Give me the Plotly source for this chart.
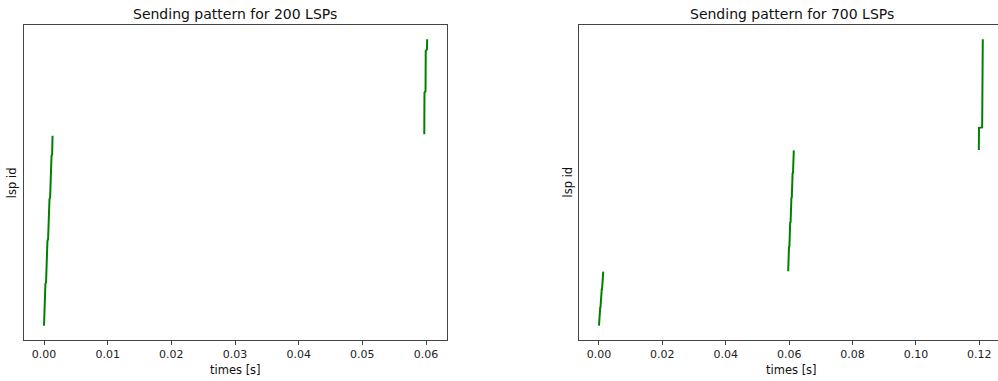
import plotly.graph_objects as go

# ---- data ----
# 200-LSP run: first burst (9 small chunks) then second burst near 0.06 s
left_b1_ids = [0, 14, 15, 29, 30, 44, 45, 59, 60, 74, 75, 88, 89, 103, 104, 118, 119, 132]
left_b1_times = [0.00000, 0.00006, 0.00016, 0.00022, 0.00032, 0.00038, 0.00048, 0.00054,
                 0.00064, 0.00070, 0.00080, 0.00086, 0.00096, 0.00102, 0.00112, 0.00118,
                 0.00128, 0.00134]
left_b2_ids = [133, 162, 163, 191, 192, 199]
left_b2_times = [0.05973, 0.05976, 0.05993, 0.05996, 0.06015, 0.06018]

# 700-LSP run: three bursts at ~0 s, ~0.06 s and ~0.12 s
right_b1_ids = [0, 14, 15, 29, 30, 44, 45, 59, 60, 74, 75, 88, 89, 103, 104, 118, 119, 132]
right_b1_times = [0.00000, 0.00006, 0.00016, 0.00022, 0.00032, 0.00038, 0.00048, 0.00054,
                  0.00064, 0.00070, 0.00080, 0.00086, 0.00096, 0.00102, 0.00112, 0.00118,
                  0.00128, 0.00134]
right_b2_ids = [133, 162, 163, 192, 193, 222, 223, 252, 253, 282, 283, 312, 313, 342,
                343, 372, 373, 402, 403, 428]
right_b2_times = [0.05970, 0.05976, 0.05989, 0.05995, 0.06008, 0.06014, 0.06027, 0.06033,
                  0.06046, 0.06052, 0.06065, 0.06071, 0.06084, 0.06090, 0.06103, 0.06109,
                  0.06122, 0.06128, 0.06141, 0.06147]
right_b3_ids = [429, 483, 484, 699]
right_b3_times = [0.11985, 0.11990, 0.12090, 0.12110]

left_ticks = [0.00, 0.01, 0.02, 0.03, 0.04, 0.05, 0.06]
left_ticktext = ["0.00", "0.01", "0.02", "0.03", "0.04", "0.05", "0.06"]
right_ticks = [0.00, 0.02, 0.04, 0.06, 0.08, 0.10, 0.12]
right_ticktext = ["0.00", "0.02", "0.04", "0.06", "0.08", "0.10", "0.12"]

titles = ["Sending pattern for 200 LSPs", "Sending pattern for 700 LSPs"]
xlabel = "times [s]"
ylabel = "lsp id"

GREEN = "#008000"
W, H = 998, 381
FONT = "DejaVu Sans"

fig = go.Figure()
fig.add_trace(go.Scatter(x=left_b1_times + [None] + left_b2_times,
                         y=left_b1_ids + [None] + left_b2_ids,
                         mode="lines", line=dict(color=GREEN, width=2),
                         xaxis="x", yaxis="y", showlegend=False, hoverinfo="skip"))
fig.add_trace(go.Scatter(x=right_b1_times + [None] + right_b2_times + [None] + right_b3_times,
                         y=right_b1_ids + [None] + right_b2_ids + [None] + right_b3_ids,
                         mode="lines", line=dict(color=GREEN, width=2),
                         xaxis="x2", yaxis="y2", showlegend=False, hoverinfo="skip"))

# plot-area geometry in pixels
L1, R1 = 23.5, 446.5
L2, R2 = 578.7, 998.0
TOP, BOT = 25.0, 340.0
yd = [1 - BOT / H, 1 - TOP / H]

axcommon = dict(showgrid=False, zeroline=False, showline=True, linecolor="#444", linewidth=1,
                ticks="outside", ticklen=4, tickwidth=1, tickcolor="#444",
                tickfont=dict(family=FONT, size=11, color="#222"))

fig.update_layout(
    width=W, height=H, margin=dict(l=0, r=0, t=0, b=0),
    paper_bgcolor="white", plot_bgcolor="white",
    xaxis=dict(domain=[L1 / W, R1 / W], range=[-0.00322, 0.06322], tickmode="array",
               tickvals=left_ticks, ticktext=left_ticktext, mirror=True, anchor="y", **axcommon),
    yaxis=dict(domain=yd, range=[-9.95, 208.95], showticklabels=False, ticks="",
               showgrid=False, zeroline=False, showline=True, linecolor="#444", linewidth=1,
               mirror=True, anchor="x"),
    xaxis2=dict(domain=[L2 / W, R2 / W], range=[-0.0064, 0.1259], tickmode="array",
                tickvals=right_ticks, ticktext=right_ticktext, mirror=True, anchor="y2", **axcommon),
    yaxis2=dict(domain=yd, range=[-34.95, 733.95], showticklabels=False, ticks="",
                showgrid=False, zeroline=False, showline=True, linecolor="#444", linewidth=1,
                mirror=False, anchor="x2"),
)

ann = []
for title, (l, r) in zip(titles, [(L1, R1), (L2, 1004.5)]):
    cx = (l + r) / 2 / W
    ann.append(dict(text=title, x=cx, y=1 - 13.5 / H, xref="paper", yref="paper",
                    showarrow=False, xanchor="center", yanchor="middle",
                    font=dict(family=FONT, size=14, color="#111")))
    ann.append(dict(text=xlabel, x=cx, y=1 - 370 / H, xref="paper", yref="paper",
                    showarrow=False, xanchor="center", yanchor="middle",
                    font=dict(family=FONT, size=11.5, color="#111")))
for xpix in [11.7, 567.0]:
    ann.append(dict(text=ylabel, x=xpix / W, y=1 - 182.5 / H, xref="paper", yref="paper",
                    showarrow=False, xanchor="center", yanchor="middle", textangle=-90,
                    font=dict(family=FONT, size=11.5, color="#111")))
fig.update_layout(annotations=ann)

fig.write_html("out.html", config={"displayModeBar": False},
               post_script="document.body.style.margin='0';document.body.style.overflow='hidden';")
